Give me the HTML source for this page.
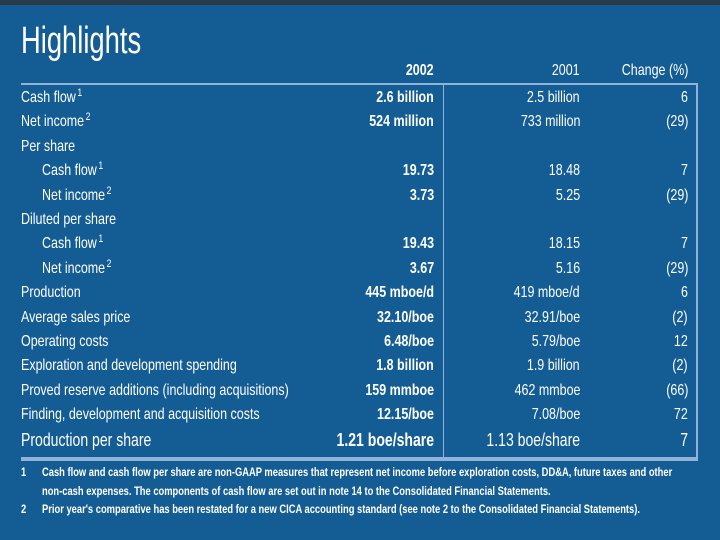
<!DOCTYPE html>
<html><head><meta charset="utf-8"><style>
body{margin:0;width:720px;height:540px;overflow:hidden;background:#145d94;font-family:"Liberation Sans",sans-serif;color:#fff;position:relative}
.t{position:absolute;white-space:nowrap;font-size:16px;line-height:18px;transform:scaleX(0.78)}
.l{transform-origin:left center}
.r{transform-origin:right center;text-align:right}
.b{font-weight:bold}
sup{font-size:11px;line-height:0;vertical-align:baseline;position:relative;top:-6px;margin-left:2px}
.fn{position:absolute;font-size:12px;white-space:nowrap;transform:scaleX(0.78);transform-origin:left center;font-weight:bold}
</style></head><body>
<div style="position:absolute;left:0;top:0;width:720px;height:5px;background:#2a3a48"></div>
<div class="t l" style="left:21px;top:20px;font-size:38px;line-height:42px;transform:scaleX(0.72)">Highlights</div>
<div class="t r b" style="right:286px;top:62px">2002</div>
<div class="t r" style="right:140px;top:62px">2001</div>
<div class="t r" style="right:32px;top:62px">Change (%)</div>
<div style="position:absolute;left:21px;top:83px;width:677px;height:2px;background:#8fb4d8"></div>
<div style="position:absolute;left:443px;top:85px;width:1px;height:373px;background:#8fb4d8"></div>
<div style="position:absolute;left:696px;top:85px;width:2px;height:373px;background:#8fb4d8"></div>
<div style="position:absolute;left:21px;top:457px;width:677px;height:4px;background:#8fb4d8"></div>
<div id="rows"></div>
<div class="fn" style="left:21px;top:465px">1</div>
<div class="fn" style="left:42px;top:465px">Cash flow and cash flow per share are non-GAAP measures that represent net income before exploration costs, DD&amp;A, future taxes and other</div>
<div class="fn" style="left:42px;top:484px">non-cash expenses. The components of cash flow are set out in note 14 to the Consolidated Financial Statements.</div>
<div class="fn" style="left:21px;top:502px">2</div>
<div class="fn" style="left:42px;top:502px">Prior year's comparative has been restated for a new CICA accounting standard (see note 2 to the Consolidated Financial Statements).</div>
<script>
const labels=["Cash flow|1","Net income|2","Per share","  Cash flow|1","  Net income|2","Diluted per share","  Cash flow|1","  Net income|2","Production","Average sales price","Operating costs","Exploration and development spending","Proved reserve additions (including acquisitions)","Finding, development and acquisition costs","Production per share"];
const v2002=["2.6 billion","524 million","","19.73","3.73","","19.43","3.67","445 mboe/d","32.10/boe","6.48/boe","1.8 billion","159 mmboe","12.15/boe","1.21 boe/share"];
const v2001=["2.5 billion","733 million","","18.48","5.25","","18.15","5.16","419 mboe/d","32.91/boe","5.79/boe","1.9 billion","462 mmboe","7.08/boe","1.13 boe/share"];
const change=["6","(29)","","7","(29)","","7","(29)","6","(2)","12","(2)","(66)","72","7"];
const host=document.getElementById('rows');
labels.forEach((lab,i)=>{
  const top=89+i*24.4;
  const last=i===labels.length-1;
  const fs=last?'18px':'16px';
  const indent=lab.startsWith('  ');
  const parts=lab.trim().split('|');
  const d=document.createElement('div');
  d.className='t l';
  d.style.cssText=`left:${indent?42:21}px;top:${top}px;font-size:${fs}`;
  d.innerHTML=parts[0]+(parts[1]?'<sup>'+parts[1]+'</sup>':'');
  
  
  host.appendChild(d);
  [[v2002[i],286,true],[v2001[i],140,false],[change[i],32,false]].forEach(([txt,r,b])=>{
    if(!txt)return;
    const c=document.createElement('div');
    c.className='t r'+(b?' b':'');
    c.style.cssText=`right:${r}px;top:${top}px;font-size:${fs}`;
    c.textContent=txt;
    
    
    host.appendChild(c);
  });
});
</script>
</body></html>
